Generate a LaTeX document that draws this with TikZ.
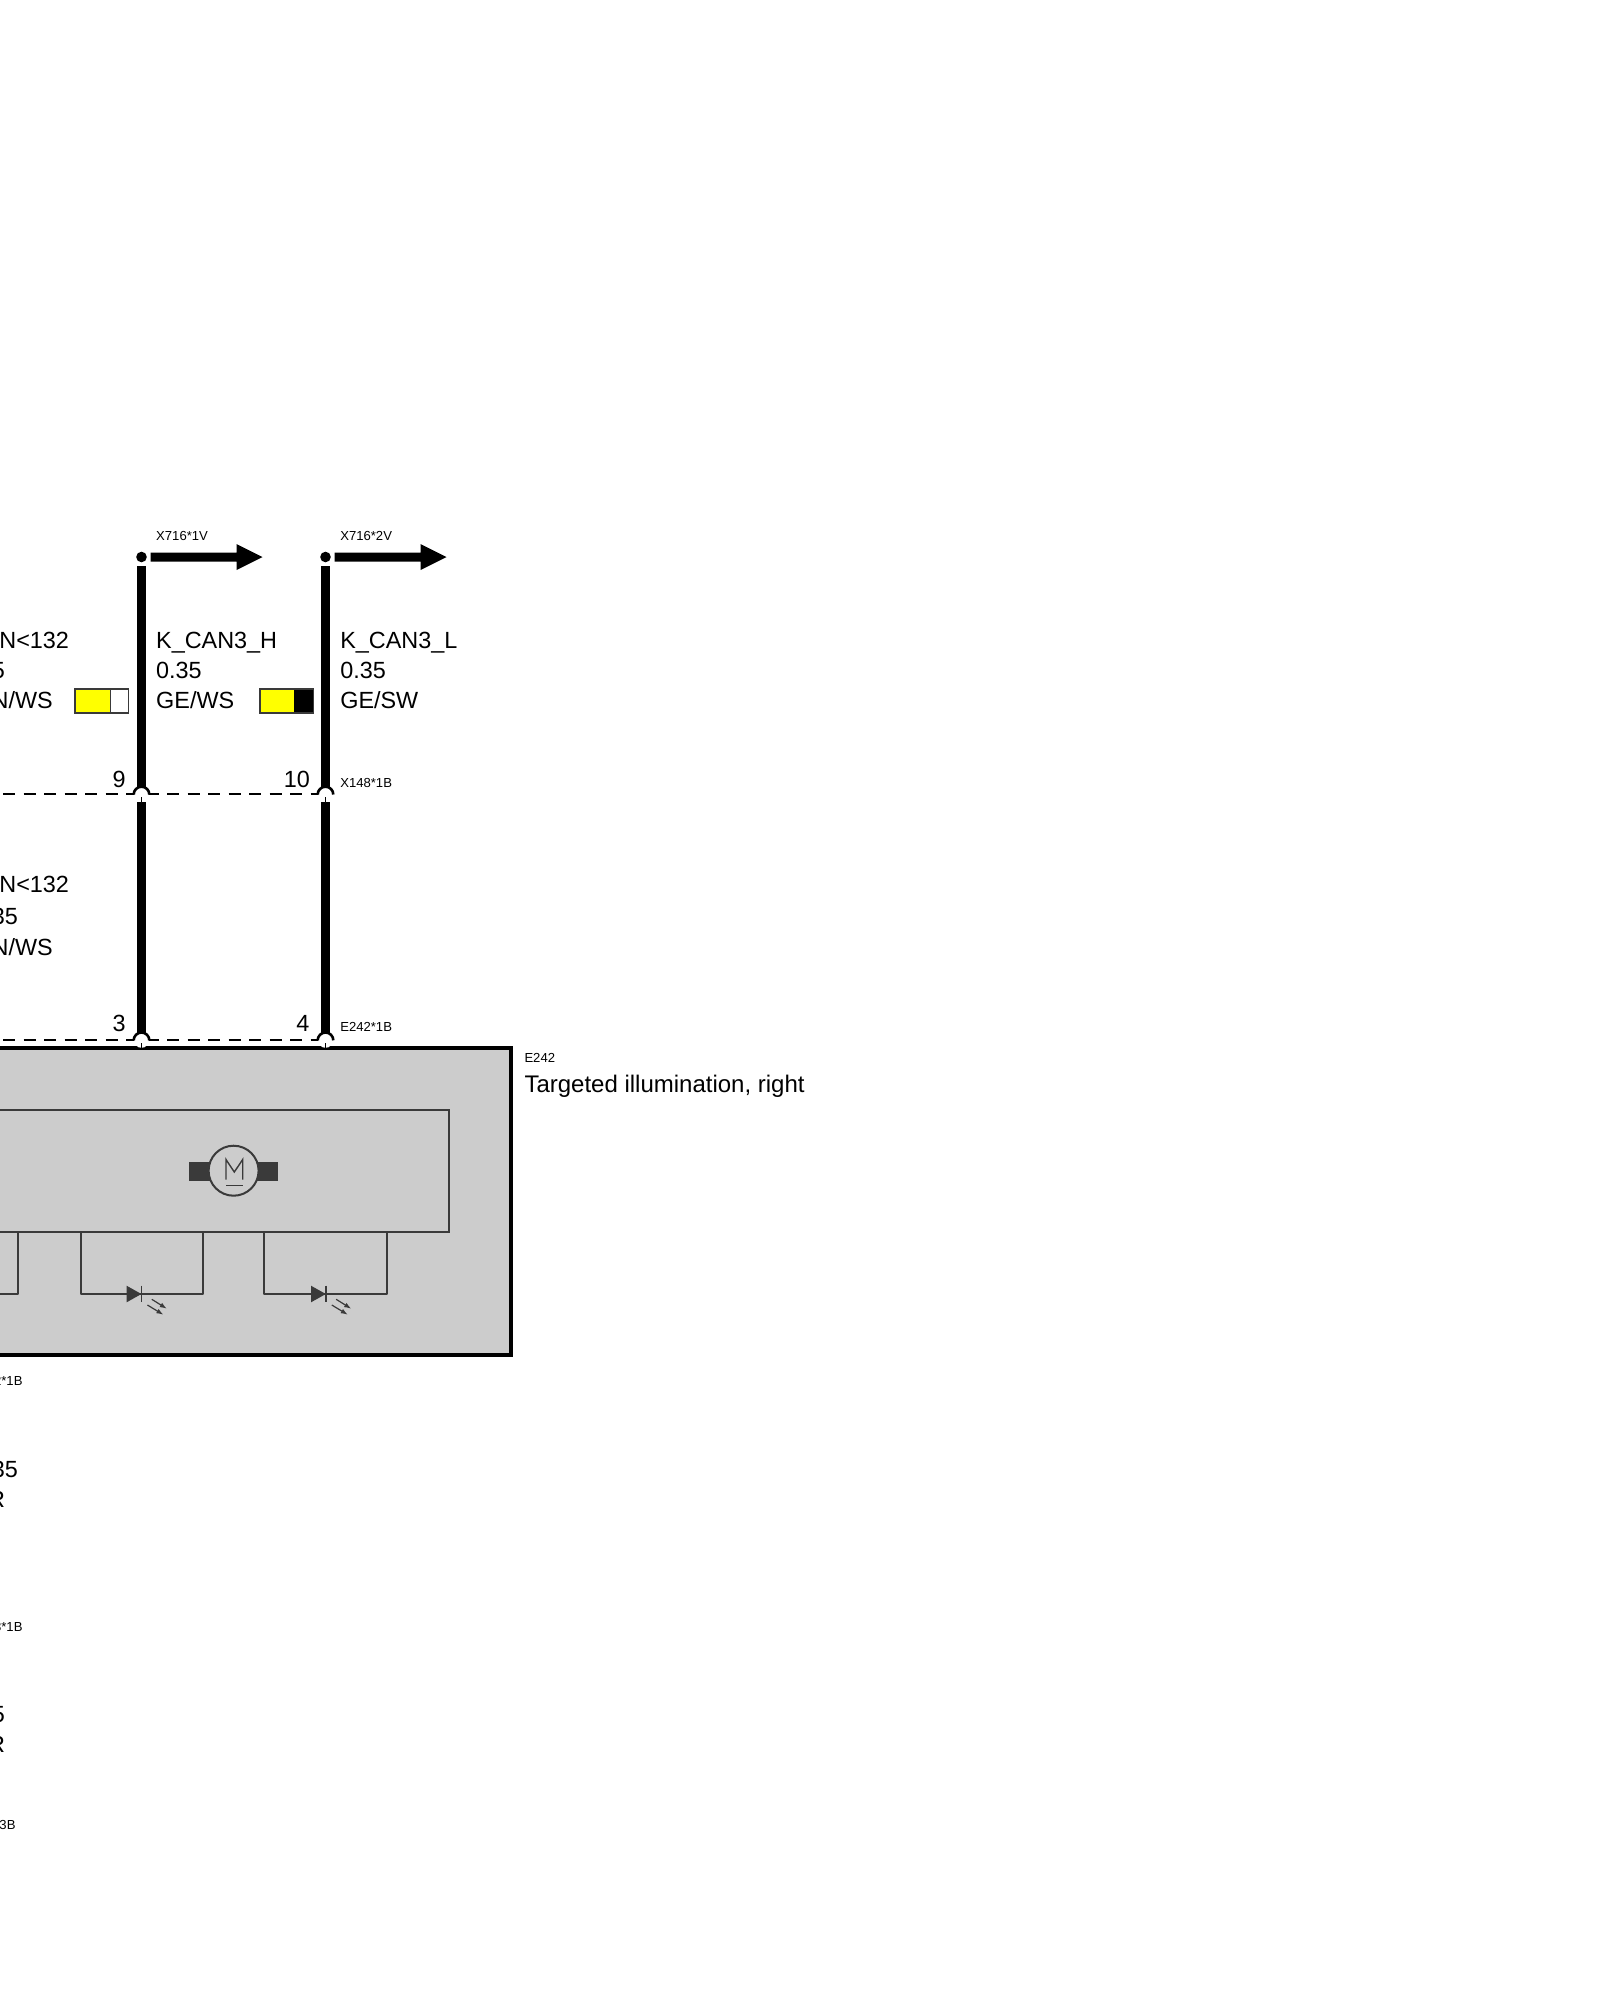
\documentclass[tikz,border=0pt]{standalone}
\usepackage{fontspec}
\setmainfont{Liberation Sans}
\usetikzlibrary{arrows.meta}
\newcommand{\bigtxt}{\fontsize{23.4}{23.4}\selectfont}
\newcommand{\titletxt}{\fontsize{24}{24}\selectfont}
\newcommand{\smalltxt}{\fontsize{13.1}{13.1}\selectfont}
\definecolor{dk}{HTML}{3A3A3A}
\definecolor{boxgrey}{HTML}{CCCCCC}
\definecolor{yel}{RGB}{255,255,0}
\tikzset{
  x=1pt,y=-1pt,
  lbl/.style={inner sep=0pt,outer sep=0pt,anchor=base west,font=\bigtxt,text=black},
  lblr/.style={inner sep=0pt,outer sep=0pt,anchor=base east,font=\bigtxt,text=black},
  tiny/.style={inner sep=0pt,outer sep=0pt,anchor=base west,font=\smalltxt,text=black},
  tinyr/.style={inner sep=0pt,outer sep=0pt,anchor=base east,font=\smalltxt,text=black},
  wire/.style={line width=8.5pt,black},
  stub/.style={line width=1.5pt,black},
  screen/.style={line width=2pt,black,dash pattern=on 12pt off 8.5pt},
  thin/.style={line width=2pt,dk},
  sw/.style={draw=dk,line width=1.5pt},
  ray/.style={line width=1.2pt,dk,-{Latex[length=7pt,width=5pt]}},
}
\newcommand{\outarrow}[1]{%
  \fill[black] ([xshift=9pt]#1) ++(0,-4.5) -- ++(86,0) -- ++(0,-8.5) -- ++(26,13) -- ++(-26,13) -- ++(0,-8.5) -- ++(-86,0) -- cycle;}
\newcommand{\led}[3]{% bar x, left x, right x
  \draw[thin,line join=round] (#2,1232.3) -- (#2,1294) -- (#3,1294) -- (#3,1232.3);
  \fill[dk] (#1-14.8,1285.7) -- (#1,1294) -- (#1-14.8,1302.3) -- cycle;
  \draw[thin,line width=1.8pt] (#1,1285.7) -- (#1,1302.3);
  \draw[ray] (#1+10.4,1299.3) -- (#1+25.4,1308.7);
  \draw[ray] (#1+6,1305) -- (#1+22,1314.7);}
\begin{document}
\begin{tikzpicture}
\useasboundingbox (0,0) rectangle (1600,2000);
\clip (0,0) rectangle (1600,2000);
\fill[white] (0,0) rectangle (1600,2000);

% coordinates
\coordinate (dotA) at (141.5,557);
\coordinate (dotB) at (325.5,557);
\coordinate (topA) at (141.5,566);
\coordinate (topB) at (325.5,566);
\coordinate (xa) at (141.5,793.7);
\coordinate (xb) at (325.5,793.7);
\coordinate (xl) at (3,793.7);
\coordinate (midA) at (141.5,802);
\coordinate (midB) at (325.5,802);
\coordinate (ea) at (141.5,1039.5);
\coordinate (eb) at (325.5,1039.5);
\coordinate (el) at (3,1039.5);

% module
\draw[black,line width=4pt,fill=boxgrey] (-10,1048.3) rectangle (510.7,1355.3);
\draw[thin] (-10,1109.5) -- (448.5,1109.5) -- (448.5,1232.3) -- (-10,1232.3);

% motor
\fill[dk] (189.3,1161.7) rectangle (277.7,1181);
\node[circle,draw=dk,line width=2pt,fill=boxgrey,minimum size=50pt,inner sep=0pt] (motor) at (233.6,1170.7) {};
\draw[dk,line width=1.4pt] (226,1179.5) -- (226,1159.5) -- (234.3,1172) -- (242.7,1159.5) -- (242.7,1179.5);
\draw[dk,line width=1.4pt] (226,1185.3) -- (242.7,1185.3);

% LEDs
\draw[thin,line join=round] (18.3,1232.3) -- (18.3,1294) -- (-10,1294);
\led{141.4}{80.5}{203.3}
\led{325.8}{264.3}{387.3}

% dashed shield lines
\draw[screen] (xl) -- (xa) -- (xb);
\draw[screen] (el) -- (ea) -- (eb);

% wires
\draw[wire] (topA) -- (xa);
\draw[wire] (topB) -- (xb);
\draw[wire] (midA) -- (ea);
\draw[wire] (midB) -- (eb);

% bumps and stubs
\foreach \c in {xa,xb,ea,eb}{
  \fill[white] ([yshift=-0.8pt]\c) circle (7.5pt);
  \draw[line width=2.6pt,black] ([xshift=-7.8pt,yshift=-0.8pt]\c) arc[start angle=180,end angle=0,radius=7.8pt,y=1pt];
}
\draw[stub] (141.5,797) -- (midA);
\draw[stub] (325.5,797) -- (midB);
\draw[stub] (141.5,1043) -- (141.5,1048);
\draw[stub] (325.5,1043) -- (325.5,1048);

% dots and arrows
\foreach \c in {dotA,dotB}{
  \fill[black] (\c) circle (5.3pt);
}
\outarrow{dotA}
\outarrow{dotB}

% swatches
\fill[yel] (75,689) rectangle (110.3,713);
\fill[white] (110.3,689) rectangle (128.3,713);
\draw[sw] (75,689) rectangle (128.3,713);
\draw[sw] (110.3,689) -- (110.3,713);
\fill[yel] (260,689) rectangle (294,713);
\fill[black] (294,689) rectangle (313.7,713);
\draw[sw] (260,689) rectangle (313.7,713);

% labels
\node[tiny] (tA) at (156.2,540) {X716*1V};
\node[tiny] (tB) at (340.3,540) {X716*2V};
\node[lbl] (l1) at (156.2,648) {K\_CAN3\_H};
\node[lbl] (l2) at (156.2,678) {0.35};
\node[lbl] (l3) at (156.2,708.5) {GE/WS};
\node[lbl] (l4) at (340.3,648) {K\_CAN3\_L};
\node[lbl] (l5) at (340.3,678) {0.35};
\node[lbl] (l6) at (340.3,708.5) {GE/SW};
\node[lblr] (c1) at (69,648) {N<132};
\node[lblr] (c2) at (4.8,678) {5};
\node[lblr] (c3) at (52.8,708.5) {N/WS};
\node[lblr] (c4) at (69,892.7) {N<132};
\node[lblr] (c5) at (17.8,924.7) {35};
\node[lblr] (c6) at (52.8,955.5) {N/WS};
\node[lblr] (n9) at (125.7,787.3) {9};
\node[lblr] (n10) at (309.8,787.3) {10};
\node[lblr] (n3) at (125.7,1031) {3};
\node[lblr] (n4) at (309.3,1031) {4};
\node[tiny] (x148) at (340.3,787.3) {X148*1B};
\node[tiny] (e242b) at (340.3,1031) {E242*1B};
\node[tiny] (e242) at (524.5,1062.3) {E242};
\node[inner sep=0pt,outer sep=0pt,anchor=base west,font=\titletxt] (name) at (524.5,1092) {Targeted illumination, right};
\node[tinyr] (s1) at (22.5,1385) {2*1B};
\node[lblr] (s2) at (17.8,1477.7) {35};
\node[lblr] (s3) at (5,1507.7) {R};
\node[tinyr] (s4) at (22.5,1631.7) {3*1B};
\node[lblr] (s5) at (5,1722.3) {5};
\node[lblr] (s6) at (5,1752.7) {R};
\node[tinyr] (s7) at (15.5,1829) {3B};
\end{tikzpicture}
\end{document}
